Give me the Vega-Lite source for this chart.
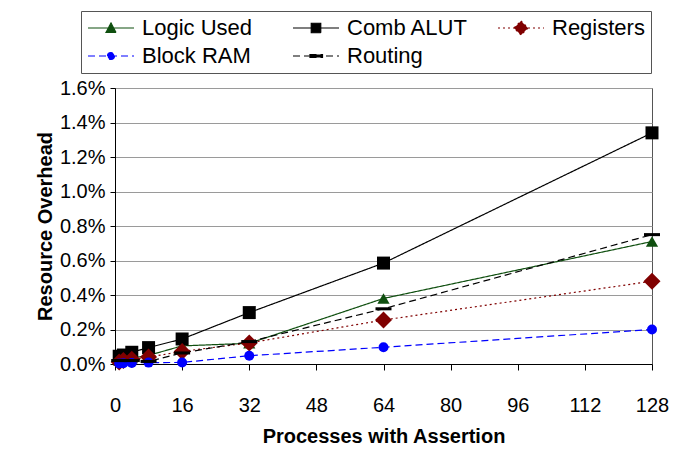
{
  "$schema": "https://vega.github.io/schema/vega-lite/v6.json",
  "width": 537,
  "height": 276,
  "autosize": {"type": "none"},
  "padding": {"left": 115, "top": 88, "right": 34, "bottom": 98},
  "background": "white",
  "config": {
    "font": "Liberation Sans",
    "view": {"stroke": "#555555", "strokeWidth": 1}
  },
  "data": {
    "values": [
      {"series": "Logic Used", "x": 1, "pct": 0.02},
      {"series": "Logic Used", "x": 2, "pct": 0.025},
      {"series": "Logic Used", "x": 4, "pct": 0.035},
      {"series": "Logic Used", "x": 8, "pct": 0.05},
      {"series": "Logic Used", "x": 16, "pct": 0.105},
      {"series": "Logic Used", "x": 32, "pct": 0.12},
      {"series": "Logic Used", "x": 64, "pct": 0.38},
      {"series": "Logic Used", "x": 128, "pct": 0.71},
      {"series": "Comb ALUT", "x": 1, "pct": 0.045},
      {"series": "Comb ALUT", "x": 2, "pct": 0.052},
      {"series": "Comb ALUT", "x": 4, "pct": 0.068},
      {"series": "Comb ALUT", "x": 8, "pct": 0.095},
      {"series": "Comb ALUT", "x": 16, "pct": 0.145},
      {"series": "Comb ALUT", "x": 32, "pct": 0.298},
      {"series": "Comb ALUT", "x": 64, "pct": 0.585},
      {"series": "Comb ALUT", "x": 128, "pct": 1.34},
      {"series": "Registers", "x": 1, "pct": 0.012},
      {"series": "Registers", "x": 2, "pct": 0.02},
      {"series": "Registers", "x": 4, "pct": 0.028},
      {"series": "Registers", "x": 8, "pct": 0.04},
      {"series": "Registers", "x": 16, "pct": 0.073},
      {"series": "Registers", "x": 32, "pct": 0.122},
      {"series": "Registers", "x": 64, "pct": 0.255},
      {"series": "Registers", "x": 128, "pct": 0.48},
      {"series": "Block RAM", "x": 1, "pct": 0.003},
      {"series": "Block RAM", "x": 2, "pct": 0.004},
      {"series": "Block RAM", "x": 4, "pct": 0.006},
      {"series": "Block RAM", "x": 8, "pct": 0.008},
      {"series": "Block RAM", "x": 16, "pct": 0.009},
      {"series": "Block RAM", "x": 32, "pct": 0.048},
      {"series": "Block RAM", "x": 64, "pct": 0.097},
      {"series": "Block RAM", "x": 128, "pct": 0.2},
      {"series": "Routing", "x": 1, "pct": 0.02},
      {"series": "Routing", "x": 2, "pct": 0.02},
      {"series": "Routing", "x": 4, "pct": 0.02},
      {"series": "Routing", "x": 8, "pct": 0.015},
      {"series": "Routing", "x": 16, "pct": 0.064},
      {"series": "Routing", "x": 32, "pct": 0.13},
      {"series": "Routing", "x": 64, "pct": 0.32},
      {"series": "Routing", "x": 128, "pct": 0.75}
    ]
  },
  "encoding": {
    "x": {
      "field": "x",
      "type": "quantitative",
      "scale": {"domain": [0, 128], "nice": false},
      "axis": {
        "values": [0, 16, 32, 48, 64, 80, 96, 112, 128],
        "grid": false,
        "title": "Processes with Assertion",
        "titleFont": "Liberation Sans",
        "titleFontSize": 20,
        "titleFontWeight": "bold",
        "titleColor": "black",
        "titlePadding": 11,
        "labelFont": "Liberation Sans",
        "labelFontSize": 20,
        "labelColor": "black",
        "labelPadding": 25,
        "labelFlush": false,
        "labelOverlap": false,
        "tickSize": 6,
        "tickColor": "black",
        "domainColor": "black"
      }
    },
    "y": {
      "field": "pct",
      "type": "quantitative",
      "scale": {"domain": [0, 1.6], "nice": false},
      "axis": {
        "values": [0, 0.2, 0.4, 0.6, 0.8, 1.0, 1.2, 1.4, 1.6],
        "labelExpr": "format(datum.value, '.1f') + '%'",
        "grid": true,
        "gridColor": "#9a9a9a",
        "gridWidth": 1,
        "title": "Resource Overhead",
        "titleFont": "Liberation Sans",
        "titleFontSize": 20,
        "titleFontWeight": "bold",
        "titleColor": "black",
        "titlePadding": 4,
        "labelFont": "Liberation Sans",
        "labelFontSize": 20,
        "labelColor": "black",
        "labelPadding": 5,
        "labelFlush": false,
        "labelOverlap": false,
        "tickSize": 5,
        "tickColor": "black",
        "domainColor": "black"
      }
    },
    "color": {
      "field": "series",
      "type": "nominal",
      "scale": {
        "domain": ["Logic Used", "Comb ALUT", "Registers", "Block RAM", "Routing"],
        "range": ["#0f4f0f", "#000000", "#800000", "#0000ff", "#000000"]
      },
      "legend": {
        "title": null,
        "orient": "none",
        "direction": "horizontal",
        "legendX": -34,
        "legendY": -77,
        "columns": 3,
        "gridAlign": "all",
        "columnPadding": 26,
        "rowPadding": 6,
        "padding": 6,
        "strokeColor": "#555555",
        "fillColor": "white",
        "labelFont": "Liberation Sans",
        "labelFontSize": 22,
        "labelColor": "black",
        "labelLimit": 0,
        "symbolSize": 100,
        "symbolOffset": 13,
        "labelOffset": 20,
        "encoding": {
          "symbols": {
            "shape": {"value": {"expr": "datum.value === 'Logic Used' ? 'M-4.6,0H4.6M-1,0.9L1,0.9L0,-1Z' : datum.value === 'Comb ALUT' ? 'M-4.6,0H4.6M-0.95,-0.95H0.95V0.95H-0.95Z' : datum.value === 'Registers' ? 'M-4.6,0H4.6M0,-1.4L1.4,0L0,1.4L-1.4,0Z' : datum.value === 'Block RAM' ? 'M-4.6,0H4.6M-0.7,0A0.7,0.7,0,1,1,0.7,0A0.7,0.7,0,1,1,-0.7,0Z' : 'M-4.6,0H4.6M-1.3,-0.3H1.3V0.3H-1.3Z'"}},
            "size": {"value": 100},
            "fill": {"value": {"expr": "scale('color', datum.value)"}},
            "stroke": {"value": {"expr": "scale('color', datum.value)"}},
            "strokeWidth": {"value": 1.2},
            "opacity": {"value": 1},
            "fillOpacity": {"value": 1},
            "strokeDash": {"value": {"expr": "datum.value === 'Registers' ? [2, 3] : (datum.value === 'Block RAM' || datum.value === 'Routing') ? [7, 4] : [1, 0]"}}
          }
        }
      }
    }
  },
  "layer": [
    {
      "mark": {"type": "line", "strokeWidth": 1.2},
      "encoding": {
        "strokeDash": {
          "field": "series",
          "type": "nominal",
          "scale": {
            "domain": ["Logic Used", "Comb ALUT", "Registers", "Block RAM", "Routing"],
            "range": [[1, 0], [1, 0], [2, 3], [7, 4], [7, 4]]
          },
          "legend": null
        }
      }
    },
    {
      "transform": [{"filter": "datum.series === 'Logic Used'"}],
      "mark": {"type": "point", "filled": true, "opacity": 1, "shape": "triangle-up", "size": 150}
    },
    {
      "transform": [{"filter": "datum.series === 'Comb ALUT'"}],
      "mark": {"type": "point", "filled": true, "opacity": 1, "shape": "square", "size": 169}
    },
    {
      "transform": [{"filter": "datum.series === 'Registers'"}],
      "mark": {"type": "point", "filled": true, "opacity": 1, "shape": "diamond", "size": 289}
    },
    {
      "transform": [{"filter": "datum.series === 'Block RAM'"}],
      "mark": {"type": "point", "filled": true, "opacity": 1, "shape": "circle", "size": 100}
    },
    {
      "transform": [{"filter": "datum.series === 'Routing'"}],
      "mark": {"type": "point", "filled": true, "opacity": 1, "shape": "M-1,-0.19H1V0.19H-1Z", "size": 256}
    }
  ]
}
